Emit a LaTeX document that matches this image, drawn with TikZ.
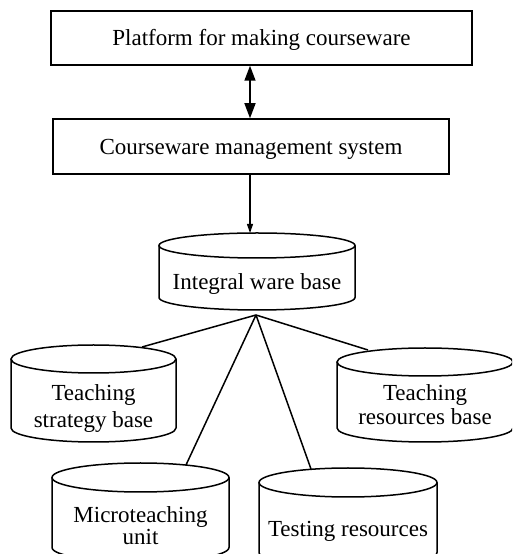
\documentclass[tikz,border=0pt]{standalone}
\usepackage{fontspec}
\setmainfont{Liberation Serif}
\usetikzlibrary{arrows.meta}
\newcommand{\dbcyl}[5]{% cx, yc (px from top), rx, ry, h
  \draw[cylline] (#1-#3,554-#2) -- (#1-#3,554-#2-#5)
    arc[start angle=180,end angle=360,x radius=#3,y radius=#4] -- (#1+#3,554-#2);
  \draw[cylline] (#1,554-#2) ellipse[x radius=#3,y radius=#4];
}
\tikzset{
  cylline/.style={line width=1.5pt},
  boxnode/.style={draw,line width=1.5pt,inner sep=0pt,text height=15.5pt,text depth=0pt},
  lbl/.style={inner sep=0pt,anchor=base},
  mlbl/.style={inner sep=0pt,align=center,anchor=center},
  link/.style={line width=1.5pt},
}
\begin{document}
\begin{tikzpicture}[x=1pt,y=1pt,font=\fontsize{23}{26}\selectfont]
\clip (0,0) rectangle (512,554);
% boxes
\node[boxnode,minimum width=421pt,minimum height=54pt] (plat) at (261.5,554-38) {Platform for making courseware};
\node[boxnode,minimum width=396pt,minimum height=55pt] (cms) at (251,554-146.5) {Courseware management system};
\coordinate (ax) at (250,0);
\draw[link,{Triangle[width=11pt,length=15pt]}-{Triangle[width=11pt,length=15pt]}] (plat.south -| ax) -- (cms.north -| ax);
% cylinders
\dbcyl{257}{245.5}{98}{12.5}{52}
\dbcyl{93.5}{359}{82.5}{14}{69}
\dbcyl{425}{362}{88}{14}{66}
\dbcyl{140.5}{477.5}{88.5}{14.5}{70}
\dbcyl{348}{482.5}{89}{14.5}{70}
% labels
\node[lbl] (iwb) at (257,554-290) {Integral ware base};
\node[mlbl] (tsb) at (93.5,554-409) {Teaching\\[1pt]strategy base};
\node[mlbl] (trb) at (425,554-405) {Teaching\\[-2pt]resources base};
\node[mlbl] (mtu) at (140.5,554-526) {Microteaching\\[-4pt]unit};
\node[lbl] (tr) at (348,554-537) {Testing resources};
% connection points
\coordinate (iwbin) at (250,554-233);
\coordinate (hub) at (256,554-315);
\coordinate (tsbtop) at (142,554-347);
\coordinate (trbtop) at (368,554-350);
\coordinate (mtutop) at (186,554-465);
\coordinate (trtop) at (311,554-469);
\draw[line width=1.1pt,-{Triangle[width=6pt,length=9pt]}] (cms.south -| ax) -- (iwbin);
\draw[link] (hub) -- (tsbtop);
\draw[link] (hub) -- (trbtop);
\draw[link] (hub) -- (mtutop);
\draw[link] (hub) -- (trtop);
\end{tikzpicture}
\end{document}
